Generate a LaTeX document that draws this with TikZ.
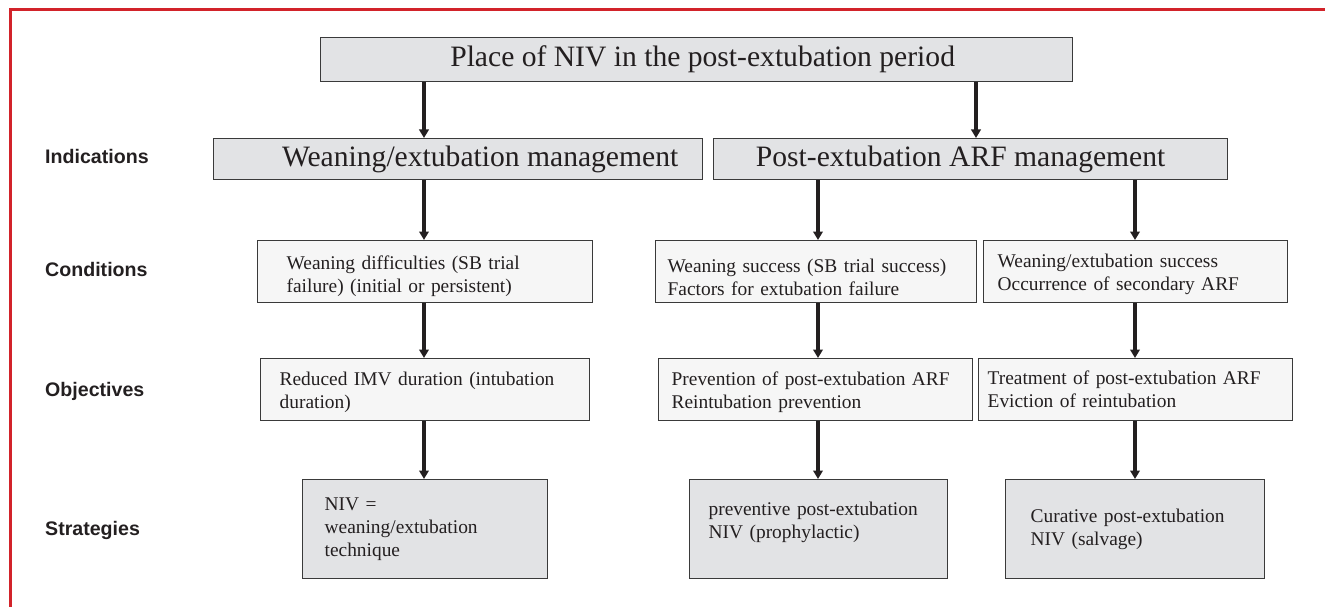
\documentclass[tikz,border=0pt]{standalone}
\usepackage{fontspec}
\setmainfont{Liberation Serif}
\newfontfamily\labelfont{Liberation Sans}
\usetikzlibrary{arrows.meta}
\definecolor{framered}{HTML}{D2232A}
\definecolor{edge}{HTML}{3A3A3A}
\definecolor{ink}{HTML}{231F20}
\definecolor{darkfill}{HTML}{E2E3E5}
\definecolor{lightfill}{HTML}{F6F6F6}
\newcommand{\firstline}[1]{\rule{0pt}{#1}}
\tikzset{
  box/.style={draw=edge, line width=1.3pt, inner ysep=0pt, anchor=north west, text=ink},
  bigbox/.style={box, fill=darkfill, inner xsep=0pt, font=\fontsize{29.6}{34}\selectfont},
  smallbox/.style={box, align=left, font=\fontsize{19.4}{23}\selectfont},
  condbox/.style={smallbox, fill=lightfill, minimum height=62pt},
  stratbox/.style={smallbox, fill=darkfill, minimum height=99pt},
  rowlabel/.style={anchor=west, inner sep=0pt, text=ink, font=\labelfont\bfseries\fontsize{19.6}{23}\selectfont},
  arr/.style={draw=ink, line width=3.4pt, -{Triangle[width=9.5pt,length=8.5pt]}},
}
\begin{document}
\begin{tikzpicture}[x=1pt,y=-1pt]
\useasboundingbox (0,0) rectangle (1325,607);

% outer frame
\draw[framered, line width=3pt] (10,607) -- (10,10) -- (1325,10);

% column positions of the vertical connectors
\coordinate (colA) at (424,0);
\coordinate (colT) at (976,0);
\coordinate (colB) at (818,0);
\coordinate (colC) at (1135,0);

% row labels
\node[rowlabel] (lind) at (45,156) {Indications};
\node[rowlabel] (lcon) at (45,269) {Conditions};
\node[rowlabel] (lobj) at (45,391) {Objectives};
\node[rowlabel] (lstr) at (45,530) {Strategies};

% title and indications
\node[bigbox, minimum width=752pt, minimum height=44pt] (top) at (320,37)
  {\hspace*{12pt}Place of NIV in the post-extubation period};
\node[bigbox, minimum width=489pt, minimum height=41pt] (w1) at (213,138)
  {\hspace*{44pt}Weaning/extubation management};
\node[bigbox, minimum width=514pt, minimum height=41pt] (w2) at (713,138)
  {Post-extubation ARF management\hspace*{20pt}};

% conditions
\node[condbox, inner xsep=29pt, text width=277pt] (c1) at (257,240)
  {\firstline{23.4pt}Weaning difficulties (SB trial\\failure) (initial or persistent)};
\node[condbox, inner xsep=12pt, text width=297pt] (c2) at (655,240)
  {\firstline{25.4pt}Weaning success (SB trial success)\\Factors for extubation failure};
\node[condbox, inner xsep=14pt, text width=276pt] (c3) at (983,240)
  {\firstline{19.4pt}Weaning/extubation success\\Occurrence of secondary ARF};

% objectives
\node[condbox, inner xsep=19pt, text width=291pt] (o1) at (260,358)
  {\firstline{19.4pt}Reduced IMV duration (intubation\\duration)};
\node[condbox, inner xsep=13pt, text width=288pt] (o2) at (658,358)
  {\firstline{19.4pt}Prevention of post-extubation ARF\\Reintubation prevention};
\node[condbox, inner xsep=9pt, text width=296pt] (o3) at (978,358)
  {Treatment of post-extubation ARF\\Eviction of reintubation};

% strategies
\node[stratbox, inner xsep=22pt, text width=201pt] (s1) at (302,479)
  {NIV =\\weaning/extubation\\technique};
\node[stratbox, inner xsep=19pt, text width=220pt] (s2) at (689,479)
  {preventive post-extubation\\NIV (prophylactic)\\[-6pt]\mbox{}};
\node[stratbox, inner xsep=25pt, text width=209pt] (s3) at (1005,479)
  {Curative post-extubation\\NIV (salvage)};

% connectors
\draw[arr] (top.south -| colA) -- (w1.north -| colA);
\draw[arr] (top.south -| colT) -- (w2.north -| colT);
\draw[arr] (w1.south -| colA) -- (c1.north -| colA);
\draw[arr] (w2.south -| colB) -- (c2.north -| colB);
\draw[arr] (w2.south -| colC) -- (c3.north -| colC);
\draw[arr] (c1.south -| colA) -- (o1.north -| colA);
\draw[arr] (c2.south -| colB) -- (o2.north -| colB);
\draw[arr] (c3.south -| colC) -- (o3.north -| colC);
\draw[arr] (o1.south -| colA) -- (s1.north -| colA);
\draw[arr] (o2.south -| colB) -- (s2.north -| colB);
\draw[arr] (o3.south -| colC) -- (s3.north -| colC);
\end{tikzpicture}
\end{document}
